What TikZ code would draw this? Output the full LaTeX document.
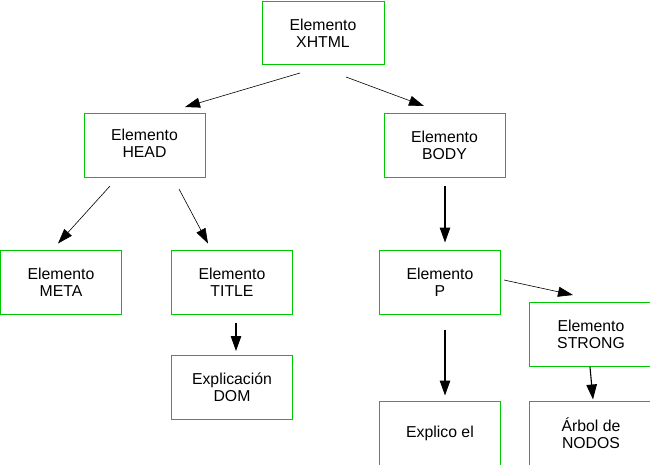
\documentclass[tikz,border=0pt]{standalone}
\usepackage{fontspec}
\setmainfont{Liberation Sans}
\usetikzlibrary{arrows.meta,calc}
\definecolor{boxgreen}{RGB}{0,200,0}
\begin{document}
\begin{tikzpicture}[x=1pt,y=-1pt,
  elem/.style={draw=boxgreen,line width=1pt,minimum width=121pt,minimum height=64pt,
    inner sep=0pt,align=center,font=\fontsize{15.8}{17}\selectfont},
  arr/.style={line width=0.6pt,-{Triangle[length=15pt,width=10pt]}},
  varr/.style={line width=1.1pt,-{Triangle[length=15pt,width=10.5pt]}}]
\useasboundingbox (0,0) rectangle (650,465);
\clip (0,0) rectangle (650,465);
\node[elem,minimum width=122pt,minimum height=63pt] (xhtml) at (323,33) {Elemento\\XHTML};
\node[elem] (head) at (144.5,145.5) {\raisebox{2pt}{\begin{tabular}{@{}c@{}}Elemento\\HEAD\end{tabular}}};
\node[elem] (body) at (444.5,145.5) {Elemento\\BODY};
\node[elem] (meta) at (61,282) {Elemento\\META};
\node[elem] (title) at (232,282) {Elemento\\TITLE};
\node[elem] (p) at (440,282) {Elemento\\P};
\node[elem,minimum width=124pt] (strong) at (591,334.5) {Elemento\\STRONG};
\node[elem] (dom) at (232,387.5) {Explicación\\DOM};
\node[elem,minimum height=65pt] (explico) at (440,433.5) {\raisebox{3pt}{Explico el}};
\node[elem,minimum width=124pt,minimum height=65pt] (arbol) at (591,433.5) {Árbol de\\NODOS};
\draw[arr] ($(xhtml.south)+(-23,8)$) -- ($(head.north)+(40.5,-6)$);
\draw[arr] ($(xhtml.south)+(23,12)$) -- ($(body.north)+(-20.5,-7)$);
\draw[arr] ($(head.south)+(-34.5,8)$) -- ($(meta.north)+(-3,-6)$);
\draw[arr] ($(head.south)+(34.5,11)$) -- ($(title.north)+(-24,-6)$);
\draw[varr] ($(body.south)+(0.5,8)$) -- ($(p.north)+(5,-7)$);
\draw[varr] ($(title.south)+(4,8)$) -- ($(dom.north)+(4,-4)$);
\draw[varr] ($(p.south)+(5,15)$) -- ($(explico.north)+(5,-5)$);
\draw[arr] ($(p.east)+(3,-2)$) -- ($(strong.north)+(-18,-7)$);
\draw[varr] ($(strong.south)+(-1,0)$) -- ($(arbol.north)+(2,-1)$);
\end{tikzpicture}
\end{document}
